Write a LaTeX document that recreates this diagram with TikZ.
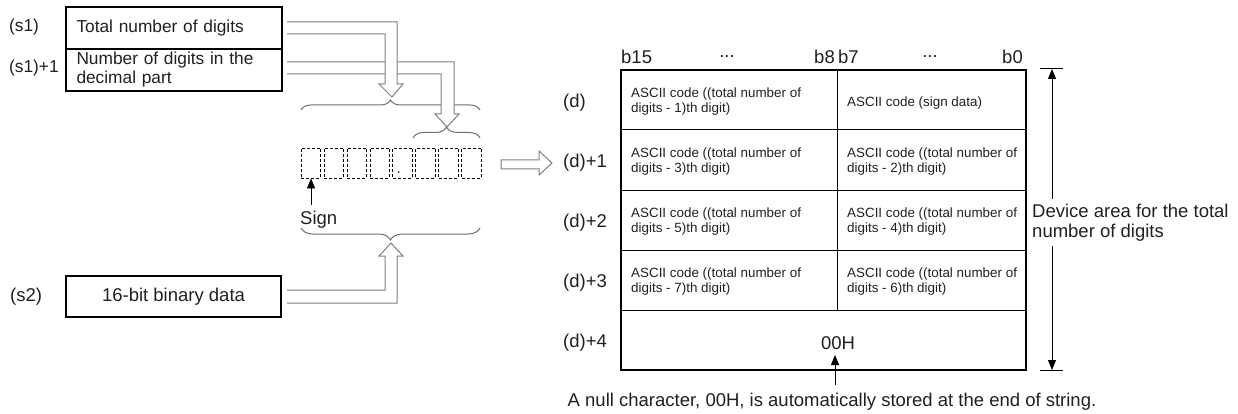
\documentclass[tikz,border=0pt]{standalone}
\usepackage{fontspec}
\setmainfont{Liberation Sans}
\usetikzlibrary{arrows.meta,decorations.pathreplacing}
\definecolor{ink}{HTML}{231F20}
\definecolor{arrowgray}{HTML}{808080}
\definecolor{bracegray}{HTML}{6D6E71}

\begin{document}
\begin{tikzpicture}[x=1pt, y=-1pt, >={Triangle[width=8pt,length=10pt]},
  big/.style={text=ink, inner sep=0pt, font=\fontsize{18.5}{20}\selectfont},
  mid/.style={text=ink, inner sep=0pt, font=\fontsize{17.3}{19}\selectfont},
  small/.style={text=ink, inner sep=0pt, font=\fontsize{13.4}{15}\selectfont},
  regbox/.style={mid, draw, line width=1pt, anchor=north west, minimum width=215pt, minimum height=41pt, text width=195pt, inner xsep=10pt, align=left},
  hollow/.style={draw=arrowgray, fill=white, line width=1pt, line join=miter},
  curly/.style={draw=bracegray, line width=1pt, decorate, decoration={brace, amplitude=#1}},
  digitbox/.style={draw, dashed, dash pattern=on 3pt off 2pt, line width=0.8pt, minimum width=19.5pt, minimum height=30pt, inner sep=0pt}]
  \useasboundingbox (0,0) rectangle (1238,414);
  % source devices
  \node[regbox] (s1) at (66,7) {Total number of digits};
  \node[regbox] (s1b) at (s1.south west) {Number of digits in the\\decimal part};
  \draw[line width=2pt] (s1.north west) rectangle (s1b.south east);
  \node[mid, anchor=west] (ls1) at (9,27) {(s1)};
  \node[mid, anchor=west] (ls1b) at (9,68) {(s1)+1};
  \node[big, draw, line width=2pt, minimum width=215pt, minimum height=41pt] (s2) at (173.5,296.5) {16-bit binary data};
  \node[big, anchor=west] (ls2) at (10,297) {(s2)};
  % digit string
  \foreach \i in {1,...,8}\node[digitbox] (b\i) at ({311+(\i-1)*22.9},163) {};
  \fill[ink] ([shift={(-4,9)}]b5.center) circle (1pt);
  \node[big, anchor=west] (sign) at (300,220) {Sign};
  \coordinate (stail) at (311,205);
  \draw[->, line width=0.8pt] (stail) -- (b1.south);
  \draw[curly=10pt] (301,110) -- (480,110);
  \draw[curly=11pt] (413,138) -- (480,138);
  \draw[curly=12pt] (480,228) -- (301,228);
  \draw[hollow] (287,62) -- (454,62) -- (454,114) -- (459,114) -- (447,127) -- (435,114) -- (441,114) -- (441,74) -- (287,74);
  \draw[hollow] (287,22) -- (397,22) -- (397,84) -- (403,84) -- (392,97) -- (379,84) -- (385,84) -- (385,34) -- (287,34);
  \draw[hollow] (287,303) -- (397,303) -- (397,256) -- (403,256) -- (391,243) -- (379,256) -- (385,256) -- (385,290) -- (287,290);
  \draw[hollow] (501,160) -- (539,160) -- (539,151) -- (552,163) -- (539,175) -- (539,169) -- (501,169) -- cycle;
  % destination devices
  \node[big, anchor=west] (h15) at (621,57) {b15};
  \node[big] (h1) at (727,57) {...};
  \node[big, anchor=east] (h8) at (835,57) {b8};
  \node[big, anchor=west] (h7) at (838,57) {b7};
  \node[big] (h2) at (930,57) {...};
  \node[big, anchor=east] (h0) at (1023,57) {b0};
  \foreach \y in {130,190,250,310}\draw[line width=1pt] (621,\y) -- (1026,\y);
  \draw[line width=1pt] (837,70) -- (837,310);
  \draw[line width=1.6pt] (621,70) rectangle (1026,370);
  \node[big, anchor=west] (d0) at (563,103) {(d)};
  \foreach \r in {1,...,4}\node[big, anchor=west] (d\r) at (563,103+60*\r) {(d)+\r};
  \node[small, anchor=west, align=left] (L0) at (631,102) {ASCII code ((total number of\\digits - 1)th digit)};
  \node[small, anchor=west] (R0) at (847,103) {ASCII code (sign data)};
  \foreach \r/\a/\b in {1/3/2,2/5/4,3/7/6}{
    \node[small, anchor=west, align=left] (L\r) at (631,102+60*\r) {ASCII code ((total number of\\digits - \a)th digit)};
    \node[small, anchor=west, align=left] (R\r) at (847,102+60*\r) {ASCII code ((total number of\\digits - \b)th digit)};
  }
  \node[big] (nul) at (838,343) {00H};
  \node[big] (note) at (832,402) {A null character, 00H, is automatically stored at the end of string.};
  \coordinate (ntail) at (835,385);
  \coordinate (ntip) at (835,355);
  \draw[->, line width=0.8pt] (ntail) -- (ntip);
  % device area
  \coordinate (dtop) at (1052,69);
  \coordinate (dbot) at (1052,370);
  \draw[line width=1pt] (1040,69) -- (1063,69) (1040,370) -- (1063,370);
  \node[big, anchor=west, align=left, inner ysep=5pt] (dev) at (1032,222.5) {Device area for the total\\number of digits};
  \draw[->, line width=0.8pt] (dev.north -| dtop) -- (dtop);
  \draw[->, line width=0.8pt] (dev.south -| dtop) -- (dbot);
\end{tikzpicture}
\end{document}
